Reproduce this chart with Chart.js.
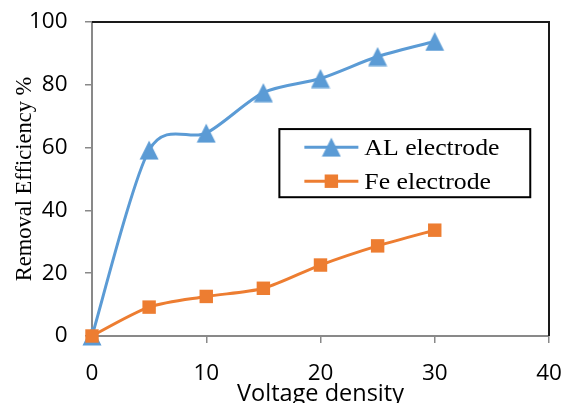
<!DOCTYPE html>
<html>
<head>
<meta charset="utf-8">
<script src="https://cdn.jsdelivr.net/npm/chart.js@4/dist/chart.umd.min.js"></script>
<style>
  html, body { margin: 0; padding: 0; background: #fff; overflow: hidden; }
  #wrap { width: 565px; height: 403px; overflow: hidden; position: relative; }
</style>
</head>
<body>
<div id="wrap"><canvas id="c" width="565" height="415"></canvas></div>
<script>
const xValues = [0, 5, 10, 15, 20, 25, 30];
const alValues = [0, 59.2, 64.6, 77.5, 82.0, 89.0, 93.8];
const feValues = [0, 9.2, 12.6, 15.2, 22.6, 28.7, 33.7];
const seriesNames = ['AL electrode', 'Fe electrode'];
const xAxisTitle = 'Voltage density';
const yAxisTitle = 'Removal Efficiency %';

const BLUE = '#5B9BD5';
const ORANGE = '#ED7D31';
const GREY = '#898989';

function pts(xs, ys) { return xs.map((x, i) => ({ x: x, y: ys[i] })); }

// Excel-style triangle marker (slightly taller than equilateral)
function makeTriangle(color) {
  const c = document.createElement('canvas');
  c.width = 20; c.height = 20;
  const g = c.getContext('2d');
  g.fillStyle = color;
  g.beginPath();
  g.moveTo(10, 0.5);
  g.lineTo(19.5, 19.5);
  g.lineTo(0.5, 19.5);
  g.closePath();
  g.fill();
  return c;
}
const triMarker = makeTriangle(BLUE);

function drawMarker(ctx, style, x, y, r, color) {
  ctx.save();
  if (style instanceof HTMLCanvasElement) {
    ctx.drawImage(style, x - style.width / 2, y - style.height / 2);
  } else {
    ctx.fillStyle = color;
    ctx.beginPath();
    const s = r / Math.SQRT2;
    ctx.rect(x - s, y - s, 2 * s, 2 * s);
    ctx.fill();
  }
  ctx.restore();
}

// Excel-like smoothing: uniform Catmull-Rom style control points
const smoothPlugin = {
  id: 'excelSmooth',
  beforeDatasetDraw(chart, args) {
    const meta = args.meta;
    const line = meta.dataset;
    if (!line) return;
    line.updateControlPoints(chart.chartArea, 'x');
    const p = meta.data;
    const n = p.length;
    for (let i = 0; i < n; i++) {
      const prev = p[Math.max(i - 1, 0)];
      const next = p[Math.min(i + 1, n - 1)];
      const dx = (next.x - prev.x) / 7;
      const dy = (next.y - prev.y) / 7;
      p[i].cp1x = p[i].x - dx; p[i].cp1y = p[i].y - dy;
      p[i].cp2x = p[i].x + dx; p[i].cp2y = p[i].y + dy;
    }
    line._path = undefined;
  }
};

const framePlugin = {
  id: 'frame',
  beforeDatasetsDraw(chart) {
    const { ctx, chartArea: a } = chart;
    ctx.save();
    ctx.strokeStyle = '#1a1a1a';
    ctx.lineWidth = 2;
    ctx.beginPath();
    ctx.moveTo(a.left, a.top);
    ctx.lineTo(a.right, a.top);
    ctx.lineTo(a.right, a.bottom);
    ctx.stroke();
    ctx.restore();
  },
  afterDraw(chart) {
    const { ctx, chartArea: a } = chart;
    const w = a.right - a.left, h = a.bottom - a.top;
    const bx = a.left + 0.41 * w, by = a.top + 0.341 * h;
    const bw = 0.549 * w, bh = 0.217 * h;
    ctx.save();
    ctx.fillStyle = '#fff';
    ctx.fillRect(bx, by, bw, bh);
    ctx.strokeStyle = '#000';
    ctx.lineWidth = 2;
    ctx.strokeRect(bx, by, bw, bh);
    const items = chart.data.datasets;
    const rows = [by + bh * 0.265, by + bh * 0.765];
    items.forEach((ds, i) => {
      const y = rows[i];
      const x0 = bx + 25, x1 = bx + 79;
      ctx.strokeStyle = ds.borderColor;
      ctx.lineWidth = 3;
      ctx.beginPath();
      ctx.moveTo(x0, y);
      ctx.lineTo(x1, y);
      ctx.stroke();
      drawMarker(ctx, ds.pointStyle, (x0 + x1) / 2, y, ds.pointRadius, ds.backgroundColor);
      ctx.save();
      ctx.translate(x1 + 6, y + 7.5);
      ctx.scale(1.12, 1);
      ctx.fillStyle = '#000';
      ctx.font = '23px "Liberation Serif", "Times New Roman", serif';
      ctx.textBaseline = 'alphabetic';
      ctx.textAlign = 'left';
      ctx.fillText(ds.label, 0, 0);
      ctx.restore();
    });
    ctx.restore();
  }
};

new Chart(document.getElementById('c'), {
  type: 'line',
  data: {
    datasets: [
      {
        label: seriesNames[0],
        data: pts(xValues, alValues),
        borderColor: BLUE,
        backgroundColor: BLUE,
        borderWidth: 3,
        pointStyle: triMarker,
        pointRadius: 10,
        pointBorderWidth: 0,
        tension: 0.4,
        fill: false,
        clip: false,
        order: 2
      },
      {
        label: seriesNames[1],
        data: pts(xValues, feValues),
        borderColor: ORANGE,
        backgroundColor: ORANGE,
        borderWidth: 3,
        pointStyle: 'rect',
        pointRadius: 9.5,
        pointBorderWidth: 0,
        tension: 0.4,
        fill: false,
        clip: false,
        order: 1
      }
    ]
  },
  options: {
    responsive: false,
    animation: false,
    layout: { padding: { left: 0, right: 16, top: 22, bottom: 0 } },
    plugins: {
      legend: { display: false },
      tooltip: { enabled: false }
    },
    scales: {
      x: {
        type: 'linear',
        min: 0, max: 40,
        ticks: {
          stepSize: 10,
          color: '#000',
          padding: 17,
          font: { family: '"Open Sans", sans-serif', size: 22.5 }
        },
        grid: { drawOnChartArea: false, drawTicks: true, tickLength: 7, color: GREY, lineWidth: 1.5 },
        border: { display: true, color: GREY, width: 2 },
        title: {
          display: true,
          text: xAxisTitle,
          color: '#000',
          font: { family: '"Open Sans", sans-serif', size: 23.5 },
          padding: { top: 0, bottom: 7 }
        },
        afterFit(scale) {
          scale.height = 79;
          scale.paddingLeft = 0; scale.paddingRight = 0;
        }
      },
      y: {
        min: 0, max: 100,
        ticks: {
          stepSize: 20,
          color: '#000',
          padding: 17.5,
          font: { family: '"Open Sans", sans-serif', size: 22.5 }
        },
        grid: { drawOnChartArea: false, drawTicks: true, tickLength: 7, color: GREY, lineWidth: 1.5 },
        border: { display: true, color: GREY, width: 2 },
        title: {
          display: true,
          text: yAxisTitle,
          color: '#000',
          font: { family: '"Liberation Serif", "Times New Roman", serif', size: 22.5 },
          padding: { top: 12, bottom: 0 }
        },
        afterFit(scale) {
          scale.width = 92;
          scale.paddingTop = 0; scale.paddingBottom = 0;
        }
      }
    }
  },
  plugins: [smoothPlugin, framePlugin]
});
</script>
</body>
</html>
